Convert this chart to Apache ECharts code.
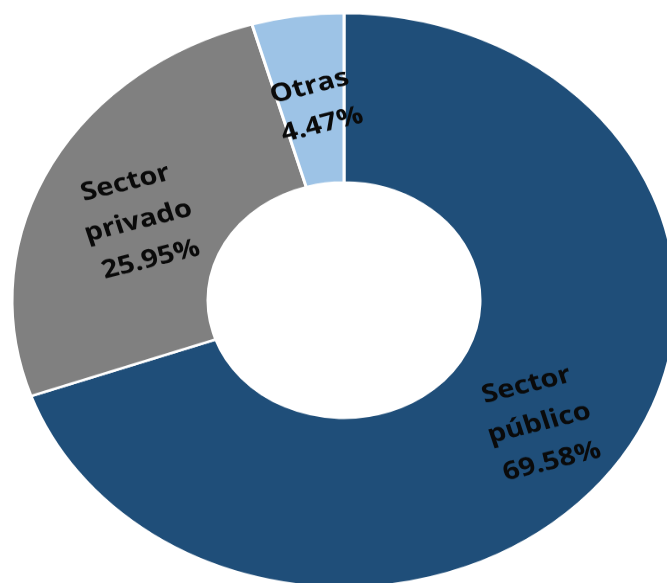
<!DOCTYPE html>
<html>
<head>
<meta charset="utf-8">
<script src="https://cdn.jsdelivr.net/npm/echarts@6/dist/echarts.min.js"></script>
<style>
  html, body { margin: 0; padding: 0; background: #fff; overflow: hidden; }
  /* the original picture is squashed vertically, so the round chart is drawn taller and scaled down */
  #chart {
    width: 667px;
    height: 674px;
    transform: scaleY(0.865);
    transform-origin: 0 0;
  }
</style>
</head>
<body>
<div id="chart"></div>
<script>
// sectores y porcentajes
const names = ['Sector\npúblico', 'Sector\nprivado', 'Otras'];
const values = [69.58, 25.95, 4.47];
const colors = ['#1F4E79', '#808080', '#9DC3E6'];
// small nudges of the labels, unscaled px
const labelOffsets = [[0, 6], [0, 18], [2, 11]];

const chart = echarts.init(document.getElementById('chart'));

chart.setOption({
  animation: false,
  series: [
    {
      type: 'pie',
      center: [344, 347],
      radius: [136, 332],
      startAngle: 90,
      clockwise: true,
      avoidLabelOverlap: false,
      itemStyle: {
        borderColor: '#fff',
        borderWidth: 3
      },
      label: {
        show: true,
        position: 'inside',
        rotate: 16,
        formatter: p => p.name + '\n' + p.value.toFixed(2) + '%',
        fontFamily: 'Open Sans',
        fontWeight: 'bold',
        fontSize: 29,
        lineHeight: 46,
        color: '#0a0a0a',
        align: 'center'
      },
      labelLine: { show: false },
      data: names.map((n, i) => ({
        name: n,
        value: values[i],
        itemStyle: { color: colors[i] },
        label: { offset: labelOffsets[i] }
      }))
    }
  ]
});

window.addEventListener('resize', () => chart.resize());
</script>
</body>
</html>
